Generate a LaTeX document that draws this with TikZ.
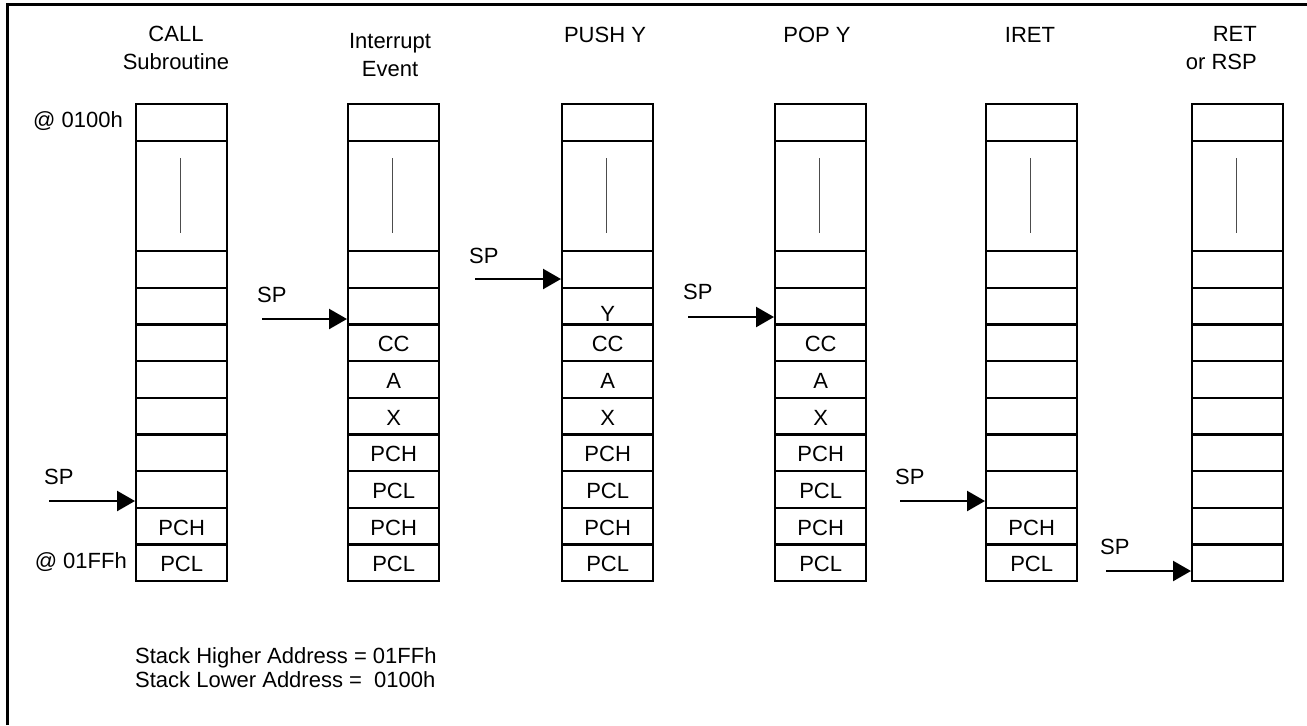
\documentclass[tikz,border=0pt]{standalone}
\usepackage{fontspec}
\setmainfont{Liberation Sans}
\usepackage{tikz}
\usetikzlibrary{arrows.meta}
\usetikzlibrary{positioning}
\tikzstyle{every node}=[font=\fontsize{11}{14}\selectfont]
\tikzstyle{every path}=[line width=1.2pt]
\tikzstyle{cell}=[draw,line width=1.2pt,anchor=north west,minimum width=45.5pt,minimum height=18.33pt,inner sep=0pt,text height=9pt,text depth=0pt]
\tikzstyle{midline}=[line width=0.9pt,black!70]
\tikzstyle{head}=[align=center,inner sep=0pt]
\tikzstyle{sparrow}=[-{Triangle[length=9pt,width=10pt]}]

\begin{document}
\begin{tikzpicture}[x=0.5pt,y=-0.5pt]
\useasboundingbox (0,0) rectangle (1307,725);
\draw[line width=1.5pt] (7,725) -- (7,4) -- (1307,4);

% column titles
\node[head] (hd1) at (176,48) {CALL\\Subroutine};
\node[head] (hd2) at (390,55) {Interrupt\\Event};
\node[head] (hd3) at (605,35) {PUSH Y};
\node[head] (hd4) at (817,35) {POP Y};
\node[head] (hd5) at (1030,35) {IRET};
\node[head,align=right,anchor=east] (hd6) at (1258,48) {RET\\or RSP};

% top cell and long cell of each stack
\foreach \c/\x in {1/135,2/347,3/561,4/774,5/985,6/1191}{
  \node[cell] (s\c-1) at (\x,103) {};
  \node[cell,minimum height=55pt] (s\c-2) at (\x,140) {};
  \draw[midline] (\x+45.5,158) -- (\x+45.5,233);
}

% stack bytes
\foreach \r/\t in {3/{},4/{},5/{},6/{},7/{},8/{},9/{},10/PCH,11/PCL}
  \node[cell] (s1-\r) at (135,{250+(\r-3)*36.67}) {\t};
\foreach \r/\t in {3/{},4/{},5/CC,6/A,7/X,8/PCH,9/PCL,10/PCH,11/PCL}
  \node[cell] (s2-\r) at (347,{250+(\r-3)*36.67}) {\t};
\foreach \r/\t in {3/{},4/{\raisebox{-3pt}{Y}},5/CC,6/A,7/X,8/PCH,9/PCL,10/PCH,11/PCL}
  \node[cell] (s3-\r) at (561,{250+(\r-3)*36.67}) {\t};
\foreach \r/\t in {3/{},4/{},5/CC,6/A,7/X,8/PCH,9/PCL,10/PCH,11/PCL}
  \node[cell] (s4-\r) at (774,{250+(\r-3)*36.67}) {\t};
\foreach \r/\t in {3/{},4/{},5/{},6/{},7/{},8/{},9/{},10/PCH,11/PCL}
  \node[cell] (s5-\r) at (985,{250+(\r-3)*36.67}) {\t};
\foreach \r/\t in {3/{},4/{},5/{},6/{},7/{},8/{},9/{},10/{},11/{}}
  \node[cell] (s6-\r) at (1191,{250+(\r-3)*36.67}) {\t};

% addresses
\node[anchor=east,inner sep=0pt] (adtop) at (124,121) {@ 0100h};
\node[anchor=east,inner sep=0pt] (adbot) at (128,562) {@ 01FFh};

% stack pointers
\node[anchor=west,inner sep=0pt] (sp1) at (43,477) {SP};
\coordinate (a1) at (49,501);
\draw[sparrow] (a1) -- (a1 -| s1-9.west);
\node[anchor=west,inner sep=0pt] (sp2) at (256,295) {SP};
\coordinate (a2) at (262,319);
\draw[sparrow] (a2) -- (a2 -| s2-4.west);
\node[anchor=west,inner sep=0pt] (sp3) at (468,256) {SP};
\coordinate (a3) at (475,279);
\draw[sparrow] (a3) -- (a3 -| s3-3.west);
\node[anchor=west,inner sep=0pt] (sp4) at (682,292) {SP};
\coordinate (a4) at (688,317);
\draw[sparrow] (a4) -- (a4 -| s4-4.west);
\node[anchor=west,inner sep=0pt] (sp5) at (894,477) {SP};
\coordinate (a5) at (900,501);
\draw[sparrow] (a5) -- (a5 -| s5-9.west);
\node[anchor=west,inner sep=0pt] (sp6) at (1099,547) {SP};
\coordinate (a6) at (1106,571);
\draw[sparrow] (a6) -- (a6 -| s6-11.west);

% limits
\node[anchor=base west,inner sep=0pt] (note1) at (134,663) {Stack Higher Address = 01FFh};
\node[anchor=base west,inner sep=0pt] (note2) at (134,687) {Stack Lower Address = \ 0100h};
\end{tikzpicture}
\end{document}
